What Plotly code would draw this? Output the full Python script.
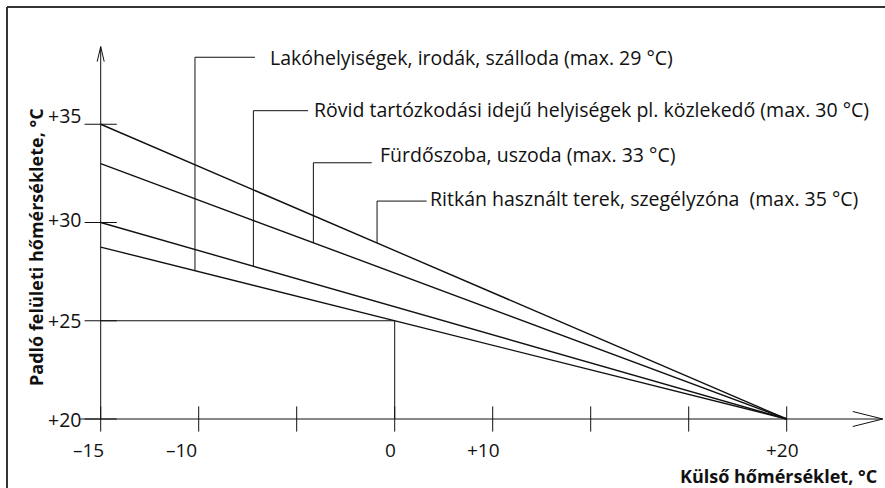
import numpy as np
import plotly.graph_objects as go

# ---------------- data ----------------
outdoor_temp = [-15, 20]                 # külső hőmérséklet, °C
floor_max_35 = [35, 20]                  # Ritkán használt terek, szegélyzóna
floor_max_33 = [33, 20]                  # Fürdőszoba, uszoda
floor_max_30 = [30, 20]                  # Rövid tartózkodási idejű helyiségek
floor_max_29 = [28.75, 20]               # Lakóhelyiségek, irodák, szálloda

series_labels = [
    "Ritkán használt terek, szegélyzóna  (max. 35 °C)",
    "Fürdőszoba, uszoda (max. 33 °C)",
    "Rövid tartózkodási idejű helyiségek pl. közlekedő (max. 30 °C)",
    "Lakóhelyiségek, irodák, szálloda (max. 29 °C)",
]
series_values = [floor_max_35, floor_max_33, floor_max_30, floor_max_29]

example_outdoor = 0
example_floor = 25

x_tick_vals = [-15, -10, -5, 0, 5, 10, 15, 20]
x_tick_text = ["–15", "–10", "", "0", "+10", "", "", "+20"]
y_tick_vals = [20, 25, 30, 35]
y_tick_text = ["+20", "+25", "+30", "+35"]

x_title = "Külső hőmérséklet, °C"
y_title = "Padló felületi hőmérséklete, °C"

# ---------------- layout constants ----------------
W, H = 885, 488
ML, MR, MT, MB = 80, 0, 40, 40
X_RANGE = [-16.056, 25.015]
Y_RANGE = [18.524, 39.288]
FONT = "Open Sans"
INK = "#111111"

# leader geometry (per label, order as series_labels)
leader_x = [-0.90, -4.15, -7.21, -10.19]
leader_top = [31.09, 33.04, 35.69, 38.41]
leader_end = [1.63, -1.17, -4.42, -7.13]
label_x = [1.71, -0.85, -4.23, -6.46]
label_y = [31.20, 33.44, 35.73, 38.42]

# pixel nudges of tick labels (style only)
x_label_xshift = {-15: -12, -10: -17, 0: -4, 5: -9, 20: -4}
y_label_yshift = {35: 9, 30: 3}

fig = go.Figure()

# main lines
for vals in series_values:
    fig.add_trace(go.Scatter(x=outdoor_temp, y=vals, mode="lines",
                             line=dict(color=INK, width=1.4),
                             hoverinfo="skip", showlegend=False))

# example reading lines
fig.add_trace(go.Scatter(x=[outdoor_temp[0], example_outdoor, example_outdoor],
                         y=[example_floor, example_floor, y_tick_vals[0]],
                         mode="lines", line=dict(color=INK, width=1),
                         hoverinfo="skip", showlegend=False))

# leader lines + labels
for i, vals in enumerate(series_values):
    y_at = float(np.interp(leader_x[i], outdoor_temp, vals))
    fig.add_trace(go.Scatter(x=[leader_x[i], leader_x[i], leader_end[i]],
                             y=[y_at, leader_top[i], leader_top[i]],
                             mode="lines", line=dict(color=INK, width=1),
                             hoverinfo="skip", showlegend=False))
    fig.add_annotation(x=label_x[i], y=label_y[i], text=series_labels[i],
                       showarrow=False, xanchor="left", yanchor="middle",
                       font=dict(family=FONT, size=19.5, color=INK))

# axis lines
x_axis_start, x_axis_end = -16.05, 24.9
y_axis_end = 38.95
fig.add_shape(type="line", x0=x_axis_start, x1=x_axis_end, y0=20, y1=20,
              xref="x", yref="y", line=dict(color=INK, width=1))
fig.add_shape(type="line", x0=-15, x1=-15, y0=20, y1=y_axis_end,
              xref="x", yref="y", line=dict(color=INK, width=1))
# arrow heads (pixel sized)
fig.add_shape(type="path", xref="x", yref="y", xsizemode="pixel", ysizemode="pixel",
              xanchor=x_axis_end, yanchor=20, path="M-30,7.5 L0,0 L-30,-7.5",
              line=dict(color=INK, width=1))
fig.add_shape(type="path", xref="x", yref="y", xsizemode="pixel", ysizemode="pixel",
              xanchor=-15, yanchor=y_axis_end, path="M-3.5,-15 L0,0 L3.5,-15",
              line=dict(color=INK, width=1))

# crossing tick marks
fig.add_trace(go.Scatter(x=x_tick_vals, y=[y_tick_vals[0]] * len(x_tick_vals),
                         mode="markers",
                         marker=dict(symbol="line-ns", size=18,
                                     line=dict(color=INK, width=1)),
                         hoverinfo="skip", showlegend=False))
fig.add_trace(go.Scatter(x=[x_tick_vals[0]] * len(y_tick_vals), y=y_tick_vals,
                         mode="markers",
                         marker=dict(symbol="line-ew", size=23,
                                     line=dict(color=INK, width=1)),
                         hoverinfo="skip", showlegend=False))

# tick labels
for v, t in zip(x_tick_vals, x_tick_text):
    if t:
        fig.add_annotation(x=v, y=y_tick_vals[0], text=t, showarrow=False,
                           xanchor="center", yanchor="middle",
                           xshift=x_label_xshift.get(v, -8), yshift=-31,
                           font=dict(family=FONT, size=19, color=INK))
for v, t in zip(y_tick_vals, y_tick_text):
    fig.add_annotation(x=x_tick_vals[0], y=v, text=t, showarrow=False,
                       xanchor="right", yanchor="middle", xshift=-18,
                       yshift=y_label_yshift.get(v, 0),
                       font=dict(family=FONT, size=19.5, color=INK))

# axis titles
pw, ph = W - ML - MR, H - MT - MB
fig.add_annotation(xref="paper", yref="paper", x=(879 - ML) / pw,
                   y=(H - MB - 476) / ph, text=f"<b>{x_title}</b>",
                   showarrow=False, xanchor="right", yanchor="middle",
                   font=dict(family=FONT, size=18, color=INK))
fig.add_annotation(xref="paper", yref="paper", x=(36 - ML) / pw,
                   y=(H - MB - 247) / ph, text=f"<b>{y_title}</b>",
                   showarrow=False, textangle=-90, xanchor="center", yanchor="middle",
                   font=dict(family=FONT, size=18, color=INK))

# frame (top and left edges)
fx = (7 - ML) / pw
fy = (H - MB - 7) / ph
fig.add_shape(type="line", xref="paper", yref="paper", x0=fx, x1=(W + 5 - ML) / pw,
              y0=fy, y1=fy, line=dict(color="#333333", width=2))
fig.add_shape(type="line", xref="paper", yref="paper", x0=fx, x1=fx,
              y0=fy, y1=(H - MB - H - 5) / ph, line=dict(color="#333333", width=2))

fig.update_layout(
    width=W, height=H,
    margin=dict(l=ML, r=MR, t=MT, b=MB, pad=0),
    paper_bgcolor="white", plot_bgcolor="white",
    xaxis=dict(range=X_RANGE, visible=False, fixedrange=True),
    yaxis=dict(range=Y_RANGE, visible=False, fixedrange=True),
    showlegend=False,
)

fig.write_html("out.html", config={"displayModeBar": False},
               post_script="document.body.style.margin='0px';")
